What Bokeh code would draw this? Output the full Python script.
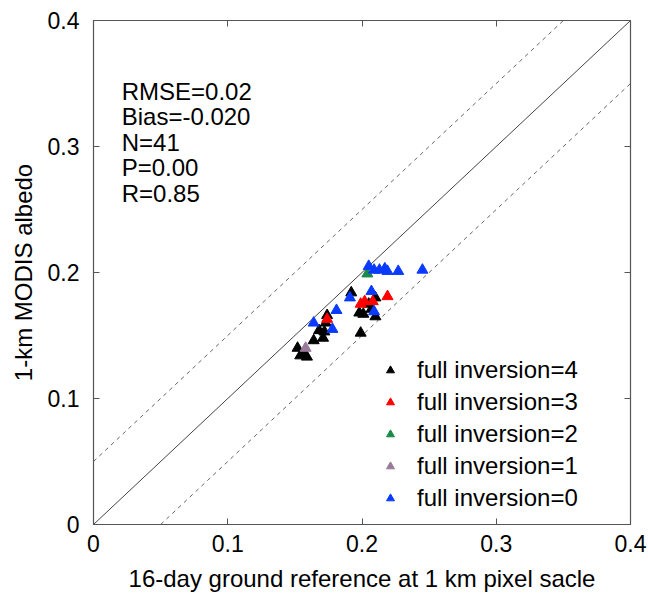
from bokeh.plotting import figure
from bokeh.models import LinearAxis, Legend, LegendItem, FixedTicker, Range1d
from bokeh.core.properties import value
from bokeh.embed import file_html
from bokeh.resources import INLINE

# Data: (ground reference, MODIS albedo) by full-inversion count
inv4_x = [0.152, 0.154, 0.157, 0.159, 0.164, 0.168, 0.171, 0.172, 0.173, 0.174,
          0.192, 0.199, 0.198, 0.201, 0.207, 0.210, 0.210, 0.205]
inv4_y = [0.140, 0.134, 0.135, 0.133, 0.146, 0.154, 0.148, 0.153, 0.160, 0.166,
          0.184, 0.152, 0.168, 0.167, 0.171, 0.180, 0.165, 0.175]
inv3_x = [0.174, 0.199, 0.202, 0.208, 0.219]
inv3_y = [0.163, 0.175, 0.177, 0.177, 0.181]
inv2_x = [0.204]
inv2_y = [0.199]
inv1_x = [0.158]
inv1_y = [0.140]
inv0_x = [0.164, 0.178, 0.181, 0.191, 0.207, 0.209, 0.205, 0.209, 0.213, 0.217,
          0.219, 0.227, 0.245]
inv0_y = [0.160, 0.155, 0.170, 0.180, 0.185, 0.169, 0.205, 0.202, 0.202, 0.203,
          0.201, 0.201, 0.202]

series = [
    ("full inversion=4", inv4_x, inv4_y, "#000000"),
    ("full inversion=3", inv3_x, inv3_y, "#ff0000"),
    ("full inversion=2", inv2_x, inv2_y, "#1a8a4a"),
    ("full inversion=1", inv1_x, inv1_y, "#9a7a9a"),
    ("full inversion=0", inv0_x, inv0_y, "#0a3aff"),
]

stats_lines = ["RMSE=0.02", "Bias=-0.020", "N=41", "P=0.00", "R=0.85"]
ticks = [0, 0.1, 0.2, 0.3, 0.4]
tick_labels = {0: "0", 0.1: "0.1", 0.2: "0.2", 0.3: "0.3", 0.4: "0.4"}

# reference lines: 1:1 and +/- 0.05
one_x = [0, 0.4]
one_y = [0, 0.4]
up_x = [0, 0.35]
up_y = [0.05, 0.4]
lo_x = [0.05, 0.4]
lo_y = [0, 0.35]

FONT = "Liberation Sans"

p = figure(width=648, height=594, output_backend="svg", toolbar_location=None,
           x_range=Range1d(0, 0.4), y_range=Range1d(0, 0.4),
           min_border_left=93, min_border_right=18, min_border_top=20,
           min_border_bottom=66)
p.background_fill_color = "white"
p.border_fill_color = "white"
p.grid.visible = False
p.outline_line_color = "#555555"
p.outline_line_width = 1.2

p.line(one_x, one_y, line_color="#444444", line_width=1)
p.line(up_x, up_y, line_color="#666666", line_width=1, line_dash="4 4")
p.line(lo_x, lo_y, line_color="#666666", line_width=1, line_dash="4 4")

items = []
for label, xs, ys, col in series:
    r = p.scatter(xs, ys, marker="triangle", size=11, fill_color=col, line_color=col)
    items.append(LegendItem(label=label, renderers=[r]))

for ax in (p.xaxis[0], p.yaxis[0]):
    ax.ticker = FixedTicker(ticks=ticks)
    ax.major_label_overrides = tick_labels
    ax.major_tick_in = 6
    ax.major_tick_out = 0
    ax.minor_tick_line_color = None
    ax.axis_line_color = "#555555"
    ax.major_tick_line_color = "#555555"
    ax.major_label_text_font = FONT
    ax.major_label_text_font_size = "23px"
    ax.major_label_text_color = "#000000"
    ax.axis_label_text_font = FONT
    ax.axis_label_text_font_size = "24px"
    ax.axis_label_text_font_style = "normal"
    ax.axis_label_text_color = "#000000"

p.xaxis[0].axis_label = "16-day ground reference at 1 km pixel sacle"
p.yaxis[0].axis_label = "1-km MODIS albedo"
p.xaxis[0].major_label_standoff = 10
p.xaxis[0].axis_label_standoff = 10
p.yaxis[0].major_label_standoff = 14
p.yaxis[0].axis_label_standoff = 8

for loc in ("right", "above"):
    ax = LinearAxis(ticker=FixedTicker(ticks=[0.1, 0.2, 0.3]))
    ax.major_label_text_font_size = "0px"
    ax.major_label_text_color = None
    ax.major_tick_in = 6
    ax.major_tick_out = 0
    ax.minor_tick_line_color = None
    ax.axis_line_color = None
    ax.major_tick_line_color = "#555555"
    p.add_layout(ax, loc)

# statistics text
stat_x = [0.021] * len(stats_lines)
stat_y = [0.344 - i * 0.0203 for i in range(len(stats_lines))]
p.text(stat_x, stat_y, text=stats_lines, text_font=value(FONT),
       text_font_size="24px", text_color="#000000", text_baseline="middle",
       text_align="left")

legend = Legend(items=items, location=(287, 12), orientation="vertical",
                background_fill_alpha=0, border_line_color=None,
                label_text_font=FONT, label_text_font_size="24px",
                label_text_color="#000000", glyph_width=20, glyph_height=20,
                label_height=20, spacing=4, padding=0, margin=0,
                label_standoff=17)
p.add_layout(legend, "center")

open("out.html", "w").write(file_html(p, INLINE))
